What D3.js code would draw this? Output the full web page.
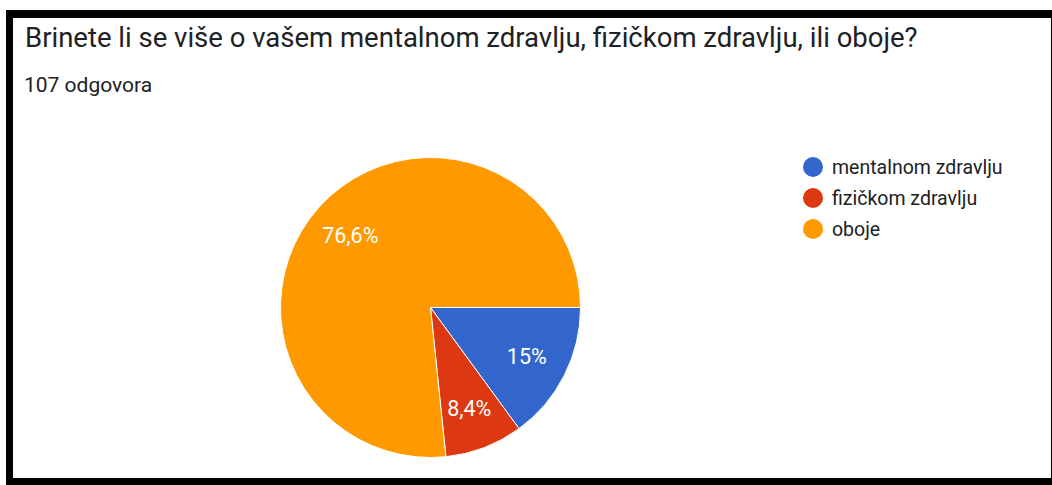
<!DOCTYPE html>
<html>
<head>
<meta charset="utf-8">
<script src="https://cdn.jsdelivr.net/npm/d3@7"></script>
<style>
  body { margin:0; background:#fff; }
  text { font-family: Roboto, "Noto Sans", sans-serif; }
</style>
</head>
<body>
<div id="app"></div>
<script>
var title = "Brinete li se više o vašem mentalnom zdravlju, fizičkom zdravlju, ili oboje?"
var subtitle = "107 odgovora"
var categories = ["mentalnom zdravlju","fizičkom zdravlju","oboje"]
var counts = [16, 9, 82]
var colours = ["#3366cc","#dc3912","#ff9900"]

var W = 1052, H = 485
var svg = d3.select("#app").append("svg").attr("width",W).attr("height",H)

// black frame round the card
svg.append("rect").attr("x",6).attr("y",10).attr("width",W-6).attr("height",H-10).attr("fill","#000")
svg.append("rect").attr("x",13).attr("y",18).attr("width",1038).attr("height",460).attr("fill","#fff")

svg.append("text").text(title)
  .attr("x",25).attr("y",47)
  .style("font-size","27.5px").style("fill","#202124")

svg.append("text").text(subtitle)
  .attr("x",24).attr("y",92)
  .style("font-size","21px").style("fill","#202124")

var total = d3.sum(counts)
var data = categories.map((c,i)=>({name:c,value:counts[i],colour:colours[i]}))

var cx = 430.5, cy = 307.5, R = 150
var pie = d3.pie().value(d=>d.value).sort(null).startAngle(Math.PI/2).endAngle(Math.PI/2+2*Math.PI)
var arc = d3.arc().innerRadius(0).outerRadius(R)
var labelArc = d3.arc().innerRadius(R*0.72).outerRadius(R*0.72)

var g = svg.append("g").attr("transform","translate("+cx+","+cy+")")
var arcs = pie(data)

g.selectAll("path").data(arcs).enter().append("path")
  .attr("d",arc)
  .attr("fill",d=>d.data.colour)
  .attr("stroke","#fff").attr("stroke-width",1)

function fmt(v){
  var p = Math.round(v/total*1000)/10
  return (p%1===0 ? p.toFixed(0) : p.toFixed(1)).replace(".",",")+"%"
}

g.selectAll(".lbl").data(arcs).enter().append("text").classed("lbl",true)
  .text(d=>fmt(d.data.value))
  .attr("transform",d=>"translate("+labelArc.centroid(d)+")")
  .attr("text-anchor","middle").attr("dy","0.35em")
  .style("font-size","21.5px").style("fill","#fff")

var legend = svg.selectAll(".leg").data(data).enter().append("g").classed("leg",true)
  .attr("transform",(d,i)=>"translate(813,"+(167+i*31)+")")
legend.append("circle").attr("r",10).attr("fill",d=>d.colour)
legend.append("text").text(d=>d.name).attr("x",19).attr("y",7)
  .style("font-size","19.5px").style("fill","#202124")
</script>
</body>
</html>
